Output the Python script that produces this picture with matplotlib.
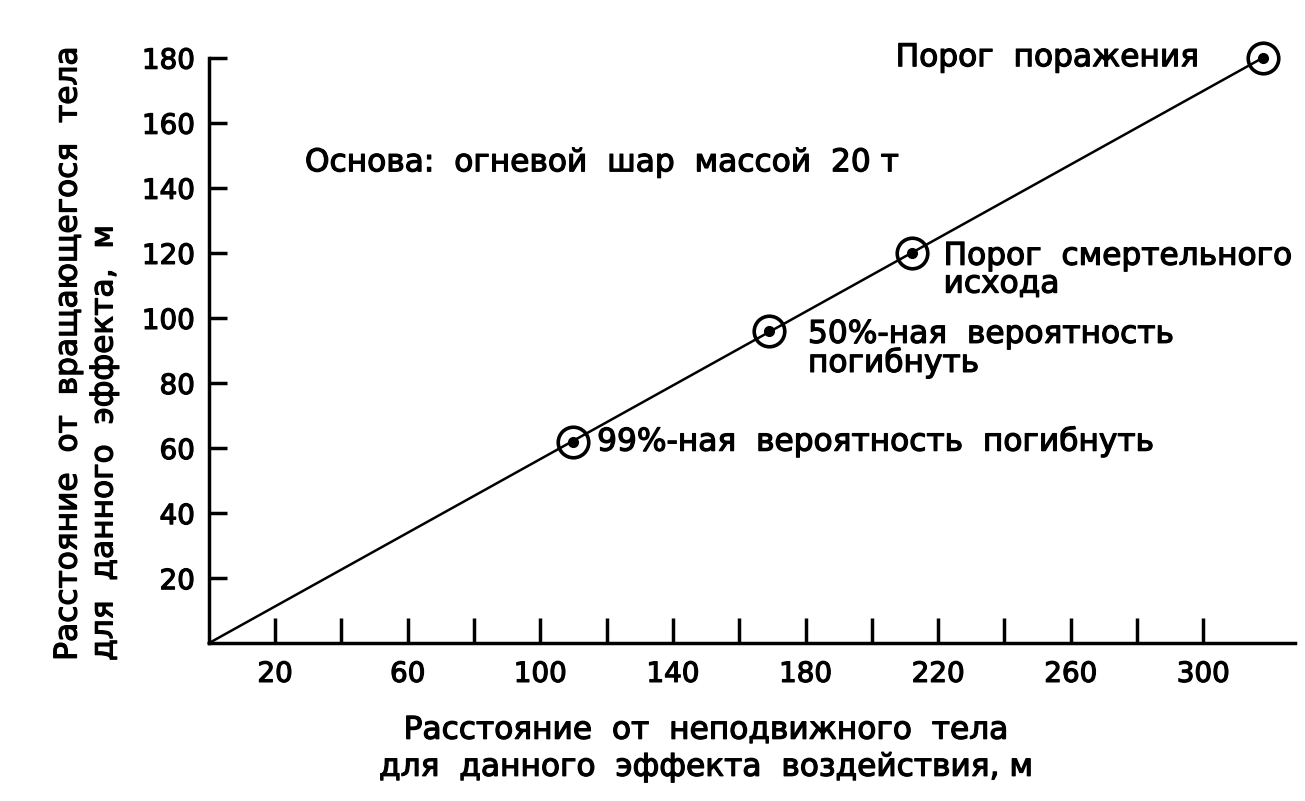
import matplotlib
matplotlib.use("Agg")
import matplotlib.pyplot as plt
import matplotlib.patheffects as pe
import numpy as np

# line from origin to the damage threshold point
lineX = np.array([0, 318])
lineY = np.array([0, 180])

# circled points on the line
pointX = np.array([110, 169, 212, 318])
pointY = np.array([62, 96, 120, 180])
pointLabels = [
    "99%-ная  вероятность  погибнуть",
    "50%-ная  вероятность\nпогибнуть",
    "Порог  смертельного\nисхода",
    "Порог  поражения",
]
# label offsets in points and alignment
labelOffsets = [(17, 0), (28, 8), (23, 8), (-46, 0)]
labelVa = ['center', 'top', 'top', 'center']
labelHa = ['left', 'left', 'left', 'right']

xTicks = np.arange(20, 301, 20)
xTickLabels = ["20", "", "60", "", "100", "", "140", "", "180", "", "220", "", "260", "", "300"]
yTicks = np.arange(20, 181, 20)

plt.rcParams['font.family'] = ['DejaVu Sans']
thick = [pe.withStroke(linewidth=0.9, foreground='black')]

fig = plt.figure(figsize=(13.05, 8.01), dpi=100)
ax = fig.add_axes([0.16, 0.197, 0.832, 0.731])

ax.plot(lineX, lineY, color='black', lw=1.8, clip_on=False)
ax.plot(pointX, pointY, 'o', ms=22, mfc='none', mec='black', mew=2.6, clip_on=False)
ax.plot(pointX, pointY, 'o', ms=7, color='black', clip_on=False)

ax.set_xlim(0, 327.5)
ax.set_ylim(0, 180)
for s in ['top', 'right']:
    ax.spines[s].set_visible(False)
for s in ['left', 'bottom']:
    ax.spines[s].set_linewidth(2.5)

ax.set_xticks(xTicks)
ax.set_xticklabels(xTickLabels)
ax.set_yticks(yTicks)
ax.tick_params(axis='x', direction='in', length=18, width=2.5, pad=12, labelsize=20)
ax.tick_params(axis='y', direction='in', length=13, width=2.5, pad=10, labelsize=20)
for lbl in ax.get_xticklabels() + ax.get_yticklabels():
    lbl.set_path_effects(thick)

# annotations next to the points
for i in range(len(pointX)):
    ax.annotate(pointLabels[i], xy=(pointX[i], pointY[i]), xytext=labelOffsets[i],
                textcoords='offset points', fontsize=22.5, va=labelVa[i], ha=labelHa[i],
                linespacing=0.95, path_effects=thick, annotation_clip=False)

ax.text(29, 147.7, "Основа:  огневой  шар  массой  20 т", fontsize=22.5, va='center', ha='left',
        path_effects=thick)

fig.text(0.541, 0.024, "Расстояние  от  неподвижного  тела\nдля  данного  эффекта  воздействия, м",
         fontsize=22.5, ha='center', va='bottom', multialignment='center', linespacing=1.35,
         path_effects=thick)
fig.text(0.041, 0.175, "Расстояние  от  вращающегося  тела\nдля  данного  эффекта,  м",
         fontsize=22.5, ha='left', va='bottom', rotation=90, multialignment='left', linespacing=1.3,
         path_effects=thick)

fig.savefig("out.png", dpi=100)
